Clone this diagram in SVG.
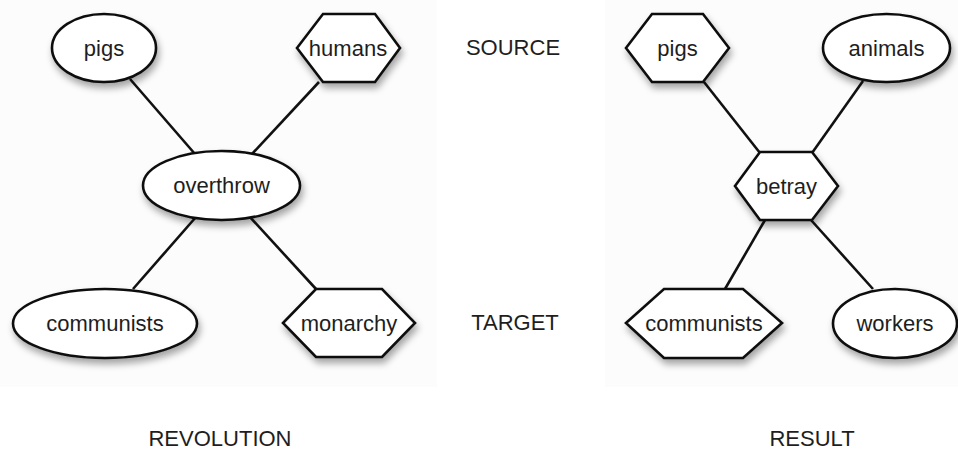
<svg xmlns="http://www.w3.org/2000/svg" width="958" height="450" viewBox="0 0 958 450">
<style>
.bg{fill:#ffffff}
.panel{fill:#fcfcfc}
.shape{fill:#ffffff;stroke:#111;stroke-width:2.6;filter:url(#sh)}
.edge{stroke:#111;stroke-width:2.6;fill:none}
text{font-family:"Liberation Sans",Arial,Helvetica,sans-serif;font-size:22px;fill:#1e1e1e;text-anchor:middle}
</style>
<defs>
<filter id="sh" x="-20%" y="-20%" width="150%" height="160%">
<feDropShadow dx="2" dy="5" stdDeviation="3.5" flood-color="#000" flood-opacity="0.35"/>
</filter>
</defs>
<rect class="bg" x="0" y="0" width="958" height="450"/>
<rect class="panel" x="0" y="0" width="437" height="387"/>
<rect class="panel" x="605" y="0" width="353" height="387"/>
<g id="connectors">
<line class="edge" x1="130" y1="79" x2="195" y2="154"/>
<line class="edge" x1="319" y1="82" x2="252" y2="154"/>
<line class="edge" x1="196" y1="217" x2="133" y2="289"/>
<line class="edge" x1="249" y1="216" x2="316" y2="289"/>
<line class="edge" x1="704" y1="82" x2="760" y2="153"/>
<line class="edge" x1="863" y1="81" x2="812" y2="153"/>
<line class="edge" x1="765" y1="220" x2="725" y2="289"/>
<line class="edge" x1="811" y1="220" x2="873" y2="289"/>
</g>
<g id="node-pigs-left">
<ellipse class="shape" cx="104" cy="48" rx="52" ry="34"/>
<text x="104" y="56">pigs</text>
</g>
<g id="node-humans">
<polygon class="shape" points="297,48 323,14 375,14 400,48 375,82 323,82"/>
<text x="348" y="56">humans</text>
</g>
<g id="node-overthrow">
<ellipse class="shape" cx="221.5" cy="185.5" rx="78.5" ry="34.5"/>
<text x="221.5" y="193">overthrow</text>
</g>
<g id="node-communists-left">
<ellipse class="shape" cx="105" cy="323.5" rx="92" ry="34.5"/>
<text x="105" y="331">communists</text>
</g>
<g id="node-monarchy">
<polygon class="shape" points="283,323 316,289 382,289 415,323 382,357 316,357"/>
<text x="349" y="331">monarchy</text>
</g>
<g id="node-pigs-right">
<polygon class="shape" points="626,48 652,14 703,14 729,48 703,82 652,82"/>
<text x="677.5" y="56">pigs</text>
</g>
<g id="node-animals">
<ellipse class="shape" cx="886.5" cy="48" rx="63.5" ry="34"/>
<text x="886.5" y="56">animals</text>
</g>
<g id="node-betray">
<polygon class="shape" points="735,186 760,152 812,152 838,186 812,220 760,220"/>
<text x="786.5" y="194">betray</text>
</g>
<g id="node-communists-right">
<polygon class="shape" points="626,323 664,289 743,289 782,323 743,358 664,358"/>
<text x="704" y="331">communists</text>
</g>
<g id="node-workers">
<ellipse class="shape" cx="895" cy="323.5" rx="62" ry="34.5"/>
<text x="895" y="331">workers</text>
</g>
<g id="labels">
<text x="513" y="55">SOURCE</text>
<text x="515" y="330">TARGET</text>
<text x="220" y="446">REVOLUTION</text>
<text x="812" y="446">RESULT</text>
</g>
</svg>
